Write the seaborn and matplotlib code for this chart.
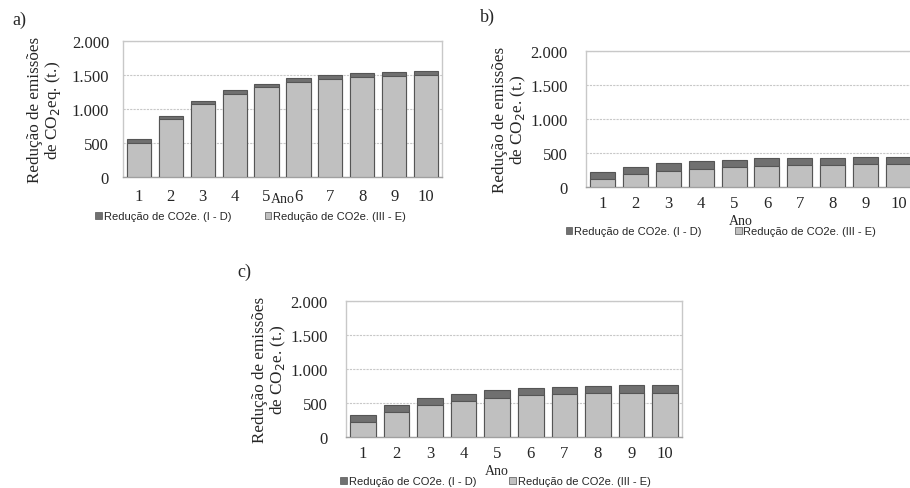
import matplotlib
matplotlib.use("Agg")
import matplotlib.pyplot as plt
import matplotlib.patches as mpatches
import seaborn as sns

anos = [1, 2, 3, 4, 5, 6, 7, 8, 9, 10]

# a) totals (I - D on top of III - E) and the III - E part
total_a = [555, 895, 1125, 1280, 1375, 1450, 1495, 1525, 1540, 1560]
iii_e_a = [505, 850, 1070, 1225, 1325, 1400, 1440, 1470, 1485, 1500]

# b)
total_b = [220, 300, 348, 382, 402, 420, 430, 432, 440, 440]
iii_e_b = [113, 186, 235, 270, 294, 309, 324, 324, 333, 333]

# c)
total_c = [323, 475, 578, 637, 686, 716, 740, 755, 760, 765]
iii_e_c = [220, 367, 470, 529, 578, 613, 637, 647, 652, 652]

yticks = [0, 500, 1000, 1500, 2000]
ytick_labels = ["0", "500", "1.000", "1.500", "2.000"]
leg_labels = ["Redução de CO2e. (I - D)", "Redução de CO2e. (III - E)"]

dark = "#707070"
light = "#c0c0c0"
edge = "#555555"

sns.set_theme(style="white")
plt.rcParams["font.family"] = ["Liberation Serif", "DejaVu Serif"]

W, H = 910, 489
fig = plt.figure(figsize=(W / 100, H / 100), dpi=100)


def box(l, t, r, b):
    return [l / W, 1 - b / H, (r - l) / W, (b - t) / H]


def panel(rect, total, part, ylab, ypad, lpad, xpad, xlab_pos, leg_pos):
    ax = fig.add_axes(rect)
    sns.barplot(x=anos, y=total, color=dark, width=0.76, edgecolor=edge,
                linewidth=0.8, saturation=1, ax=ax, zorder=3)
    sns.barplot(x=anos, y=part, color=light, width=0.76, edgecolor=edge,
                linewidth=0.8, saturation=1, ax=ax, zorder=3)
    ax.set_ylim(0, 2000)
    ax.set_xlim(-0.5, 9.5)
    ax.set_yticks(yticks)
    ax.set_yticklabels(ytick_labels)
    ax.yaxis.grid(True, color="#c8c8c8", linestyle=(0, (2, 1)), linewidth=0.8)
    ax.set_axisbelow(True)
    for s in ax.spines.values():
        s.set_color("#c8c8c8")
        s.set_linewidth(1.0)
    ax.spines["bottom"].set_color("#a0a0a0")
    ax.tick_params(axis="y", length=0, pad=ypad, labelsize=12)
    ax.tick_params(axis="x", length=0, pad=xpad, labelsize=12)
    ax.set_ylabel(ylab, fontsize=12.3, linespacing=1.05, labelpad=lpad)
    ax.set_xlabel("Ano", fontsize=10, va="center")
    ax.xaxis.set_label_coords(*xlab_pos)
    handles = [mpatches.Patch(facecolor=dark, edgecolor=edge, linewidth=0.5),
               mpatches.Patch(facecolor=light, edgecolor=edge, linewidth=0.5)]
    ax.legend(handles, leg_labels, loc="center", bbox_to_anchor=leg_pos,
              ncol=2, frameon=False, handlelength=0.6, handleheight=0.6,
              handletextpad=0.15, columnspacing=3.0,
              prop={"family": "Liberation Sans", "size": 8})
    return ax


panel(box(123, 42, 442, 178), total_a, iii_e_a,
      "Redução de emissões\nde CO$_2$eq. (t.)", 10, 6, 8,
      (0.5, -0.16), (0.4, -0.29))
panel(box(586, 52, 915, 188), total_b, iii_e_b,
      "Redução de emissões\nde CO$_2$e. (t.)", 13, 2, 6,
      (0.47, -0.245), (0.41, -0.325))
panel(box(346, 302, 682, 438), total_c, iii_e_c,
      "Redução de emissões\nde CO$_2$e. (t.)", 13, 2, 6,
      (0.45, -0.245), (0.445, -0.325))

fig.text(12 / W, 1 - 20 / H, "a)", fontsize=13, va="center", ha="left")
fig.text(480 / W, 1 - 17 / H, "b)", fontsize=13, va="center", ha="left")
fig.text(237 / W, 1 - 272 / H, "c)", fontsize=13, va="center", ha="left")

fig.savefig("out.png", dpi=100, facecolor="white")
